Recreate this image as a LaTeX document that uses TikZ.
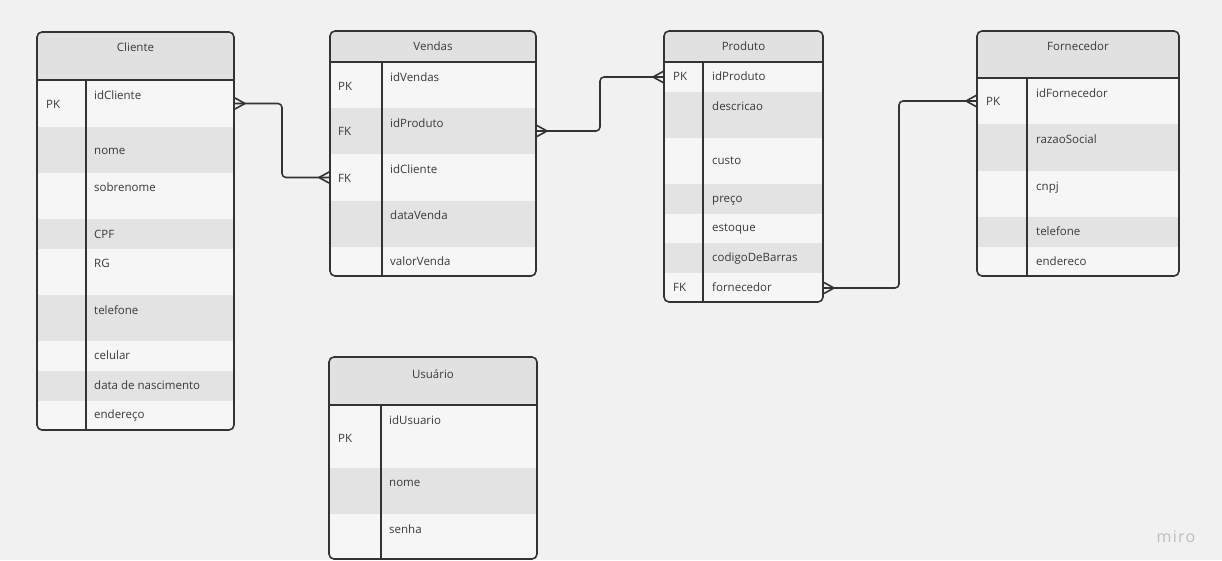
\documentclass[tikz,border=0pt]{standalone}
\usepackage{fontspec}
\setmainfont{Open Sans}
\definecolor{bgc}{HTML}{F1F1F1}
\definecolor{headc}{HTML}{E1E1E1}
\definecolor{rowW}{HTML}{F6F6F6}
\definecolor{rowG}{HTML}{E3E3E3}
\definecolor{linec}{HTML}{333333}
\definecolor{txtc}{HTML}{3A3A3A}
\definecolor{miroc}{HTML}{BDBDBD}
\newcommand\erow[6]{\node[rowbox,fill=#6,minimum width={#3-#2},minimum height={#5-#4}] (#1) at (#2,#4) {};}
\newcommand\etxt[4]{\node[etext] (#1) at (#2,#3) {#4};}
\newcommand\ettl[4]{\node[ttext] (#1) at (#2,#3) {#4};}
\newcommand\eframe[6]{% x1 x2 top head bottom div
  \draw[border] (#6,#4) -- (#6,#5);
  \draw[border] (#1,#4) -- (#2,#4);
  \draw[border,rounded corners=5pt] (#1,#3) rectangle (#2,#5);}
\newcommand\crowE[1]{\draw[conn] ([xshift=11pt]#1) -- ([yshift=6pt]#1) ([xshift=11pt]#1) -- ([yshift=-6pt]#1);}
\newcommand\crowW[1]{\draw[conn] ([xshift=-11pt]#1) -- ([yshift=6pt]#1) ([xshift=-11pt]#1) -- ([yshift=-6pt]#1);}
\begin{document}
\begin{tikzpicture}[x=1pt,y=-1pt,
  rowbox/.style={anchor=north west,inner sep=0pt,outer sep=0pt,draw=none},
  etext/.style={anchor=west,inner sep=0pt,text=txtc,font=\fontsize{11.5}{13}\selectfont,text height=8pt,text depth=2pt},
  ttext/.style={anchor=center,inner sep=0pt,text=txtc,font=\fontsize{11.5}{13}\selectfont,text height=8pt,text depth=2pt},
  border/.style={draw=linec,line width=1.6pt},
  conn/.style={draw=linec,line width=1.6pt,line cap=round,line join=round}]
\fill[bgc] (0,0) rectangle (1222,560);
\useasboundingbox (0,0) rectangle (1222,560);

% ---------------- Cliente
\begin{scope}
\clip[rounded corners=5pt] (37,32) rectangle (234,430);
\erow{cli-h}{37}{234}{32}{80}{headc}
\erow{cli-id}{37}{234}{80}{127}{rowW}
\erow{cli-nome}{37}{234}{127}{173}{rowG}
\erow{cli-sob}{37}{234}{173}{219}{rowW}
\erow{cli-cpf}{37}{234}{219}{249}{rowG}
\erow{cli-rg}{37}{234}{249}{295}{rowW}
\erow{cli-tel}{37}{234}{295}{341}{rowG}
\erow{cli-cel}{37}{234}{341}{371}{rowW}
\erow{cli-dn}{37}{234}{371}{401}{rowG}
\erow{cli-end}{37}{234}{401}{431}{rowW}
\end{scope}
\ettl{cli-t}{135.5}{48}{Cliente}
\etxt{cli-k1}{46}{105}{PK}
\etxt{cli-f1}{94}{96}{idCliente}
\etxt{cli-f2}{94}{151}{nome}
\etxt{cli-f3}{94}{188}{sobrenome}
\etxt{cli-f4}{94}{235}{CPF}
\etxt{cli-f5}{94}{264}{RG}
\etxt{cli-f6}{94}{311}{telefone}
\etxt{cli-f7}{94}{356}{celular}
\etxt{cli-f8}{94}{386}{data de nascimento}
\etxt{cli-f9}{94}{415}{endereço}
\eframe{37}{234}{32}{80}{430}{86}

% ---------------- Vendas
\begin{scope}
\clip[rounded corners=5pt] (330,31) rectangle (536,276);
\erow{ven-h}{330}{536}{31}{62}{headc}
\erow{ven-id}{330}{536}{62}{108}{rowW}
\erow{ven-prod}{330}{536}{108}{154}{rowG}
\erow{ven-cli}{330}{536}{154}{201}{rowW}
\erow{ven-data}{330}{536}{201}{247}{rowG}
\erow{ven-val}{330}{536}{247}{277}{rowW}
\end{scope}
\ettl{ven-t}{433}{47}{Vendas}
\etxt{ven-k1}{338}{87}{PK}
\etxt{ven-k2}{338}{132}{FK}
\etxt{ven-k3}{338}{179}{FK}
\etxt{ven-f1}{390}{78}{idVendas}
\etxt{ven-f2}{390}{124}{idProduto}
\etxt{ven-f3}{390}{170}{idCliente}
\etxt{ven-f4}{390}{216}{dataVenda}
\etxt{ven-f5}{390}{262}{valorVenda}
\eframe{330}{536}{31}{62}{276}{382}

% ---------------- Produto
\begin{scope}
\clip[rounded corners=5pt] (664,31) rectangle (823,302);
\erow{pro-h}{664}{823}{31}{62}{headc}
\erow{pro-id}{664}{823}{62}{92}{rowW}
\erow{pro-desc}{664}{823}{92}{138}{rowG}
\erow{pro-cus}{664}{823}{138}{184}{rowW}
\erow{pro-pre}{664}{823}{184}{214}{rowG}
\erow{pro-est}{664}{823}{214}{243}{rowW}
\erow{pro-cod}{664}{823}{243}{273}{rowG}
\erow{pro-forn}{664}{823}{273}{303}{rowW}
\end{scope}
\ettl{pro-t}{743.5}{47}{Produto}
\etxt{pro-k1}{673}{77}{PK}
\etxt{pro-k2}{673}{288}{FK}
\etxt{pro-f1}{712}{77}{idProduto}
\etxt{pro-f2}{712}{107}{descricao}
\etxt{pro-f3}{712}{161}{custo}
\etxt{pro-f4}{712}{199}{preço}
\etxt{pro-f5}{712}{228}{estoque}
\etxt{pro-f6}{712}{258}{codigoDeBarras}
\etxt{pro-f7}{712}{288}{fornecedor}
\eframe{664}{823}{31}{62}{302}{703}

% ---------------- Fornecedor
\begin{scope}
\clip[rounded corners=5pt] (977,31) rectangle (1179,276);
\erow{for-h}{977}{1179}{31}{78}{headc}
\erow{for-id}{977}{1179}{78}{124}{rowW}
\erow{for-raz}{977}{1179}{124}{171}{rowG}
\erow{for-cnpj}{977}{1179}{171}{217}{rowW}
\erow{for-tel}{977}{1179}{217}{247}{rowG}
\erow{for-end}{977}{1179}{247}{277}{rowW}
\end{scope}
\ettl{for-t}{1078}{47}{Fornecedor}
\etxt{for-k1}{986}{102}{PK}
\etxt{for-f1}{1036}{94}{idFornecedor}
\etxt{for-f2}{1036}{140}{razaoSocial}
\etxt{for-f3}{1036}{187}{cnpj}
\etxt{for-f4}{1036}{232}{telefone}
\etxt{for-f5}{1036}{262}{endereco}
\eframe{977}{1179}{31}{78}{276}{1027}

% ---------------- Usuario
\begin{scope}
\clip[rounded corners=5pt] (329,357) rectangle (537,559);
\erow{usu-h}{329}{537}{357}{405}{headc}
\erow{usu-id}{329}{537}{405}{468}{rowW}
\erow{usu-nome}{329}{537}{468}{514}{rowG}
\erow{usu-sen}{329}{537}{514}{560}{rowW}
\end{scope}
\ettl{usu-t}{433}{375}{Usuário}
\etxt{usu-k1}{338}{439}{PK}
\etxt{usu-f1}{389}{421}{idUsuario}
\etxt{usu-f2}{389}{483}{nome}
\etxt{usu-f3}{389}{530}{senha}
\eframe{329}{537}{357}{405}{559}{381}

% ---------------- connectors
\draw[conn,rounded corners=4pt] (cli-id.east) -- ++(48,0) |- (ven-cli.west);
\crowE{cli-id.east}
\crowW{ven-cli.west}
\draw[conn,rounded corners=4pt] (ven-prod.east) -- ++(64,0) |- (pro-id.west);
\crowE{ven-prod.east}
\crowW{pro-id.west}
\draw[conn,rounded corners=4pt] (pro-forn.east) -- ++(76,0) |- (for-id.west);
\crowE{pro-forn.east}
\crowW{for-id.west}

% ---------------- watermark
\node[anchor=center,inner sep=0pt,text=miroc,font=\fontsize{16}{18}\selectfont\addfontfeatures{LetterSpace=8}] (miro) at (1176,537) {miro};
\end{tikzpicture}
\end{document}
